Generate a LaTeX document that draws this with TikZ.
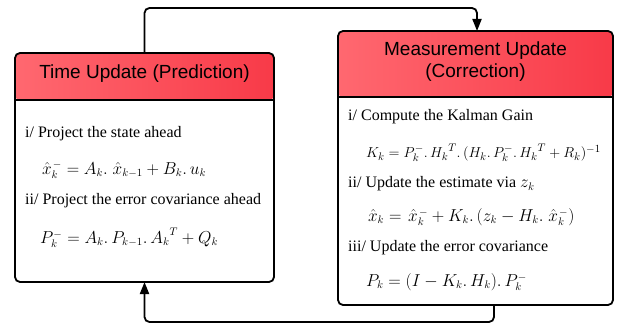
\documentclass[tikz,border=0pt]{standalone}
\usepackage{fontspec}
\setmainfont{Liberation Serif}
\newfontfamily\hdrfont{Liberation Sans}
\usetikzlibrary{arrows.meta}
\definecolor{hdrL}{RGB}{255,104,112}
\definecolor{hdrR}{RGB}{248,58,72}
\newcommand{\xhat}{\mkern2mu{\hat{x}}}
\newcommand{\xhm}{\xhat_k^{\kern1.2pt-}}
\begin{document}
\begin{tikzpicture}[x=1pt,y=-1pt,
  box/.style={draw=black,line width=1.8pt,rounded corners=5pt,fill=white,inner sep=0pt,outer sep=0pt},
  hdr/.style={font=\hdrfont\fontsize{19}{22}\selectfont,align=center,anchor=center},
  body/.style={font=\fontsize{16}{19}\selectfont,anchor=west,inner sep=0pt},
  formula/.style={font=\fontsize{16}{19}\selectfont,anchor=west,inner sep=0pt},
  smallformula/.style={font=\fontsize{15}{18}\selectfont,anchor=west,inner sep=0pt},
  flow/.style={line width=1.8pt,rounded corners=5pt,-{Triangle[width=9pt,length=12pt]}}]
\useasboundingbox (0,0) rectangle (631,326);
% Time update box
\node[box,minimum width=259pt,minimum height=229pt,
  path picture={\shade[left color=hdrL,right color=hdrR] (path picture bounding box.north west) rectangle ([yshift=-47pt]path picture bounding box.north east);
  \draw[line width=1.8pt] ([yshift=-47pt]path picture bounding box.north west) -- ([yshift=-47pt]path picture bounding box.north east);}]
  (tu) at (144.5,167.5) {};
% Measurement update box
\node[box,minimum width=275pt,minimum height=274pt,
  path picture={\shade[left color=hdrL,right color=hdrR] (path picture bounding box.north west) rectangle ([yshift=-66pt]path picture bounding box.north east);
  \draw[line width=1.8pt] ([yshift=-66pt]path picture bounding box.north west) -- ([yshift=-66pt]path picture bounding box.north east);}]
  (mu) at (475.5,168) {};
% headers
\node[hdr] (tuh) at (144.5,74) {Time Update (Prediction)};
\node[hdr] (muh) at (475.5,62) {Measurement Update\\(Correction)};
% left body
\node[body] (t1) at (25,134) {i/ Project the state ahead};
\node[formula] (t2) at (40,170) {$\xhm = A_k.\,\xhat_{k-1} + B_k.\,u_k$};
\node[body] (t3) at (25,201) {ii/ Project the error covariance ahead};
\node[formula] (t4) at (40,238) {$P_k^- = A_k.\,P_{k-1}.\,{A_k}^T + Q_k$};
% right body
\node[body] (m1) at (348,117) {i/ Compute the Kalman Gain};
\node[smallformula] (m2) at (366,153) {$K_k = P_k^-.\,{H_k}^T.\,(H_k.\,P_k^-.\,{H_k}^T + R_k)^{-1}$};
\node[body] (m3) at (348,184) {ii/ Update the estimate via $z_k$};
\node[formula] (m4) at (366,217) {$\xhat_k = \xhm + K_k.\,(z_k - H_k.\,\xhm)$};
\node[body] (m5) at (348,248) {iii/ Update the error covariance};
\node[formula] (m6) at (366,282) {$P_k = (I - K_k.\,H_k).\,P_k^-$};
% connectors
\draw[flow] (tu.north) -- ++(0,-45) -| ([xshift=1.5pt]mu.north);
\draw[flow] ([xshift=18.5pt]mu.south) -- ++(0,17) -| (tu.south);
\end{tikzpicture}
\end{document}
